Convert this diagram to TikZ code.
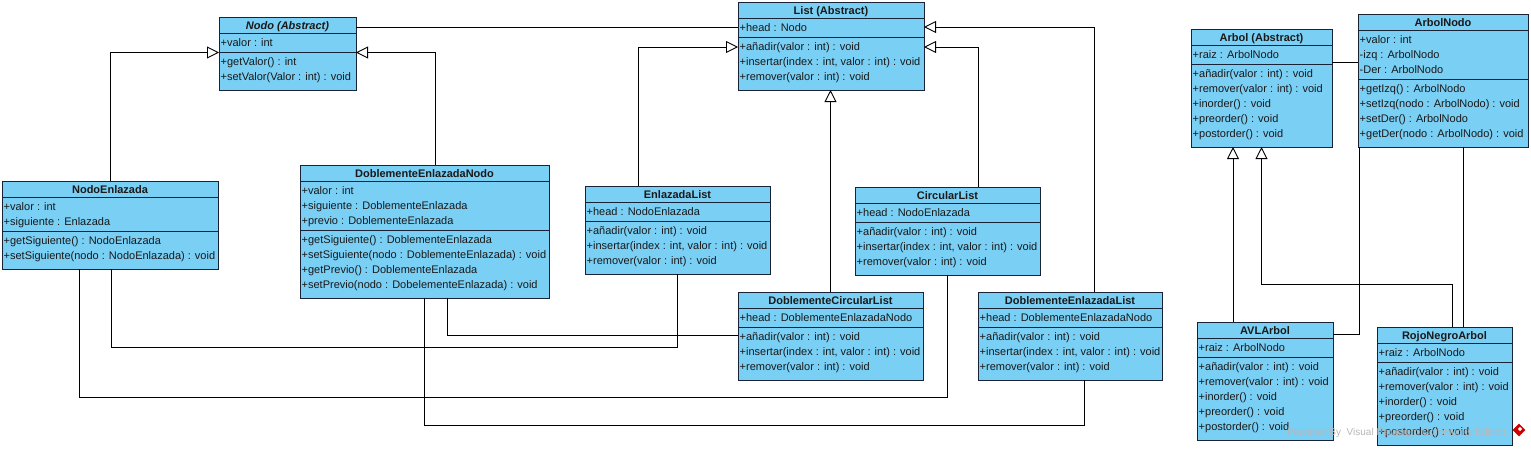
\documentclass[tikz,border=0pt]{standalone}
\usepackage{fontspec}
\setmainfont{Liberation Sans}
\usetikzlibrary{arrows.meta,calc}
\definecolor{clsfill}{RGB}{122,207,245}
\definecolor{clsborder}{RGB}{25,35,55}
\tikzset{
 cls/.style={draw=clsborder, fill=clsfill, line width=1pt, inner sep=0pt, outer sep=0pt},
 clsline/.style={draw=clsborder, line width=0.9pt},
 titletext/.style={font=\fontsize{11}{13}\selectfont\bfseries, inner sep=0pt, text=black!90},
 member/.style={font=\fontsize{11}{13}\selectfont, inner sep=0pt, text=black!90},
 conn/.style={draw=black, line width=0.9pt},
 inh/.style={conn, -{Triangle[length=12pt,width=12pt,fill=white]}},
 wmark/.style={font=\fontsize{10}{12}\selectfont, inner sep=0pt, text=black!28},
}
% #1 name #2 x #3 top #4 width #5 n attrs #6 n methods #7 title #8 attrs #9 methods
\newcommand\umlclass[9]{%
 \pgfmathsetmacro\sepB{35.5+15*(#5-1)}%
 \pgfmathsetmacro\hgt{\sepB+22.5+15*(#6-1)}%
 \node[cls, minimum width=#4pt, minimum height=\hgt pt, anchor=north west] (#1) at (#2,#3) {};
 \draw[clsline] ([yshift=-16pt]#1.north west) -- ([yshift=-16pt]#1.north east);
 \draw[clsline] ([yshift=-\sepB pt]#1.north west) -- ([yshift=-\sepB pt]#1.north east);
 \node[titletext, anchor=base] (#1-title) at ([yshift=-12pt]#1.north) {#7};
 \foreach \t [count=\i] in {#8} {
  \node[member, anchor=base west] (#1-a\i) at ([xshift=1.5pt, yshift={-29.5pt-15pt*(\i-1)}]#1.north west) {\t};
 }
 \foreach \t [count=\i] in {#9} {
  \node[member, anchor=base west] (#1-m\i) at ([xshift=1.5pt, yshift={-\sepB pt-13pt-15pt*(\i-1)}]#1.north west) {\t};
 }
}
\begin{document}
\begin{tikzpicture}[x=1pt,y=-1pt]
\useasboundingbox (0,0) rectangle (1531,448);
\fill[white] (0,0) rectangle (1531,448);

\umlclass{nodo}{219}{17}{137}{1}{2}{\itshape Nodo (Abstract)}{{+valor : int}}{{+getValor() : int},{+setValor(Valor : int) : void}}
\umlclass{list}{738}{2}{186}{1}{3}{List (Abstract)}{{+head : Nodo}}{{+añadir(valor : int) : void},{+insertar(index : int, valor : int) : void},{+remover(valor : int) : void}}
\umlclass{ne}{2}{181}{216}{2}{2}{NodoEnlazada}{{+valor : int},{+siguiente : Enlazada}}{{+getSiguiente() : NodoEnlazada},{+setSiguiente(nodo : NodoEnlazada) : void}}
\umlclass{den}{300}{165}{249}{3}{4}{DoblementeEnlazadaNodo}{{+valor : int},{+siguiente : DoblementeEnlazada},{+previo : DoblementeEnlazada}}{{+getSiguiente() : DoblementeEnlazada},{+setSiguiente(nodo : DoblementeEnlazada) : void},{+getPrevio() : DoblementeEnlazada},{+setPrevio(nodo : DobelementeEnlazada) : void}}
\umlclass{el}{585}{186}{185}{1}{3}{EnlazadaList}{{+head : NodoEnlazada}}{{+añadir(valor : int) : void},{+insertar(index : int, valor : int) : void},{+remover(valor : int) : void}}
\umlclass{cl}{855}{187}{185}{1}{3}{CircularList}{{+head : NodoEnlazada}}{{+añadir(valor : int) : void},{+insertar(index : int, valor : int) : void},{+remover(valor : int) : void}}
\umlclass{dcl}{738}{292}{185}{1}{3}{DoblementeCircularList}{{+head : DoblementeEnlazadaNodo}}{{+añadir(valor : int) : void},{+insertar(index : int, valor : int) : void},{+remover(valor : int) : void}}
\umlclass{del}{978}{292}{184}{1}{3}{DoblementeEnlazadaList}{{+head : DoblementeEnlazadaNodo}}{{+añadir(valor : int) : void},{+insertar(index : int, valor : int) : void},{+remover(valor : int) : void}}
\umlclass{arbol}{1191}{29}{141}{1}{5}{Arbol (Abstract)}{{+raiz : ArbolNodo}}{{+añadir(valor : int) : void},{+remover(valor : int) : void},{+inorder() : void},{+preorder() : void},{+postorder() : void}}
\umlclass{an}{1358}{14}{170}{3}{4}{ArbolNodo}{{+valor : int},{-izq : ArbolNodo},{-Der : ArbolNodo}}{{+getIzq() : ArbolNodo},{+setIzq(nodo : ArbolNodo) : void},{+setDer() : ArbolNodo},{+getDer(nodo : ArbolNodo) : void}}
\umlclass{avl}{1197}{322}{136}{1}{5}{AVLArbol}{{+raiz : ArbolNodo}}{{+añadir(valor : int) : void},{+remover(valor : int) : void},{+inorder() : void},{+preorder() : void},{+postorder() : void}}
\umlclass{rn}{1377}{327}{135}{1}{5}{RojoNegroArbol}{{+raiz : ArbolNodo}}{{+añadir(valor : int) : void},{+remover(valor : int) : void},{+inorder() : void},{+preorder() : void},{+postorder() : void}}

% generalizations
\draw[inh] ([xshift=108pt]ne.north west) |- ([yshift=-35.5pt]nodo.north west);
\draw[inh] ([xshift=135pt]den.north west) |- ([yshift=-35.5pt]nodo.north east);
\draw[inh] ([xshift=53pt]el.north west) |- ([yshift=-45pt]list.north west);
\draw[inh] (dcl.north) -- (dcl.north |- list.south);
\draw[inh] ([xshift=123pt]cl.north west) |- ([yshift=-45pt]list.north east);
\draw[inh] ([xshift=116pt]del.north west) |- ([yshift=-25pt]list.north east);
\coordinate (avlTop) at ([xshift=36pt]avl.north west);
\draw[inh] (avlTop) -- (avlTop |- arbol.south);
\coordinate (rnTop) at ([xshift=75pt]rn.north west);
\draw[inh] (rnTop) -- ++(0,-43) -| (arbol.south);

% associations
\draw[conn] ([yshift=-10pt]nodo.north east) -- ([yshift=-25pt]list.north west);
\draw[conn] ([xshift=109pt]ne.south west) -- ++(0,78) -| ([xshift=92pt]el.south west);
\draw[conn] ([xshift=77pt]ne.south west) -- ++(0,128) -| ([xshift=92pt]cl.south west);
\draw[conn] ([xshift=147pt]den.south west) |- ([yshift=-43pt]dcl.north west);
\draw[conn] ([xshift=124pt]den.south west) -- ++(0,127) -| ([xshift=106pt]del.south west);
\draw[conn] ([yshift=-33pt]arbol.north east) -- ([yshift=-48pt]an.north west);
\draw[conn] ([xshift=1pt]an.south west) |- ([yshift=-12pt]avl.north east);
\coordinate (anB) at ([xshift=105pt]an.south west);
\draw[conn] (anB) -- (anB |- rn.north);

% watermark
\node[wmark, anchor=base west] (wm) at (1287,435) {Powered By\ \ Visual Paradigm Community Edition};
\node[fill=red!80!black, minimum size=9pt, inner sep=0pt, rotate=45] (logo) at (1519,430) {};
\node[fill=white, minimum size=3pt, inner sep=0pt, rotate=45] (logoin) at (1520,429) {};
\end{tikzpicture}
\end{document}
